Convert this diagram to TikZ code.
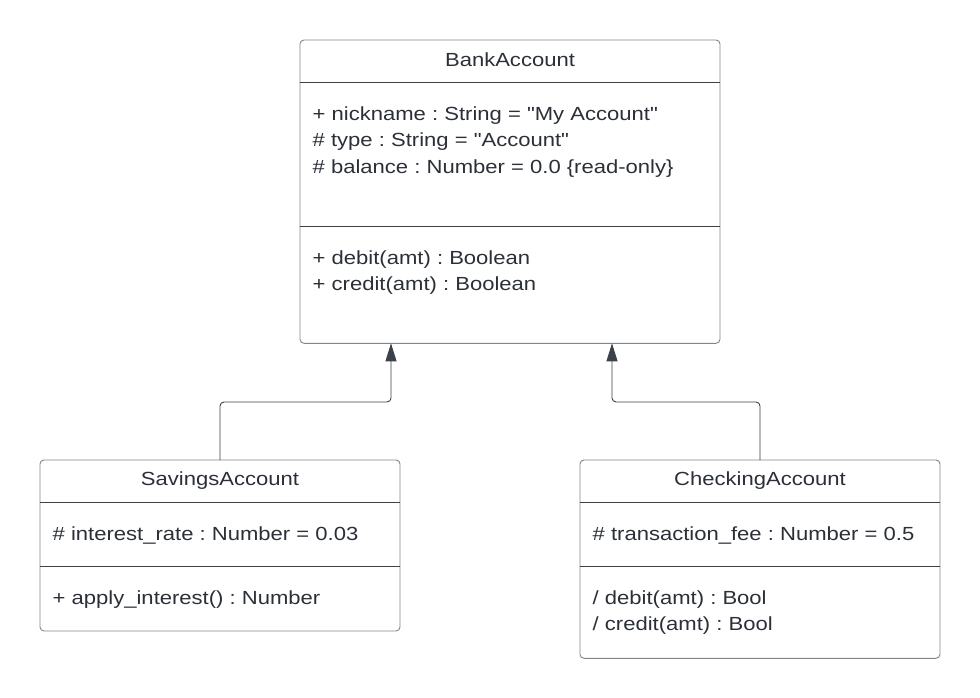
\documentclass[tikz,border=0pt]{standalone}
\usepackage{fontspec}
\setmainfont[FakeStretch=1.16,Ligatures=TeXOff]{Liberation Sans}
\usetikzlibrary{arrows.meta,calc,positioning}
\definecolor{umltext}{HTML}{2B3038}
\definecolor{umlborder}{HTML}{7F858C}
\definecolor{umlline}{HTML}{3A414A}
\tikzstyle{classbox}=[draw=umlborder,line width=.9pt,rounded
corners=4pt,anchor=north west,inner sep=0pt,outer sep=0pt,minimum width=360pt]
\tikzstyle{divider}=[draw=umlline,line width=.9pt]
\frenchspacing

\begin{document}
\begin{tikzpicture}[x=1pt,y=-1pt,>={Triangle[length=18pt,width=11pt]}]
    \tikzstyle{cname}=[text=umltext,anchor=base,inner sep=0pt,
    font=\fontsize{19}{26}\selectfont]
    \tikzstyle{member}=[text=umltext,anchor=base west,inner sep=0pt,
    font=\fontsize{19}{26}\selectfont]
    \tikzstyle{inherit}=[draw=umlline,line width=.9pt,rounded
    corners=4pt,->,>={Triangle[length=18pt,width=11pt]},fill=none]
    \useasboundingbox (0,0) rectangle (980,698);

    % base class
    \node[classbox,minimum width=420pt,minimum height=303.3pt] at (300,40)
    (bank) {};
    \node[cname] at (510,66.3) (bankname) {BankAccount};
    \draw[divider] ($(bank.north west)+(0,42.3)$) -- ($(bank.north east)+(0,42.3)$);
    \draw[divider] ($(bank.north west)+(0,186.7)$) -- ($(bank.north east)+(0,186.7)$);
    \node[member] at (312.5,120.3) (nick) {+ nickname : String = "My Account"};
    \node[member] at (312.5,146.8) (type) {\# type : String = "Account"};
    \node[member] at (312.5,173.3) (bal) {\# balance : Number = 0.0 \{read-only\}};
    \node[member] at (312.5,264.3) (debit) {+ debit(amt) : Boolean};
    \node[member] at (312.5,290.8) (credit) {+ credit(amt) : Boolean};

    % savings
    \node[classbox,minimum height=171pt] at (40,460) (savings) {};
    \node[cname] at (220,485.7) (savname) {SavingsAccount};
    \draw[divider] ($(savings.north west)+(0,42.3)$) -- ($(savings.north east)+(0,42.3)$);
    \draw[divider] ($(savings.north west)+(0,106.7)$) -- ($(savings.north east)+(0,106.7)$);
    \node[member] at (52.5,540) (rate) {\# interest\_rate : Number = 0.03};
    \node[member] at (52.5,604.3) (apply) {+ apply\_interest() : Number};

    % checking
    \node[classbox,minimum height=198.3pt] at (580,460) (checking) {};
    \node[cname] at (760,485.7) (chkname) {CheckingAccount};
    \draw[divider] ($(checking.north west)+(0,42.3)$) -- ($(checking.north east)+(0,42.3)$);
    \draw[divider] ($(checking.north west)+(0,106.7)$) -- ($(checking.north east)+(0,106.7)$);
    \node[member] at (592.5,540) (fee) {\# transaction\_fee : Number = 0.5};
    \node[member] at (592.5,604) (cdebit) {/ debit(amt) : Bool};
    \node[member] at (592.5,630.5) (ccredit) {/ credit(amt) : Bool};

    % generalisation
    \coordinate (savtip) at (391,343.3);
    \coordinate (savbend) at (391,402);
    \coordinate (chktip) at (612,343.3);
    \coordinate (chkbend) at (612,402);
    \draw[inherit] (savings.north) |- (savbend) -- (savtip);
    \draw[inherit] (checking.north) |- (chkbend) -- (chktip);
  \end{tikzpicture}
\end{document}
